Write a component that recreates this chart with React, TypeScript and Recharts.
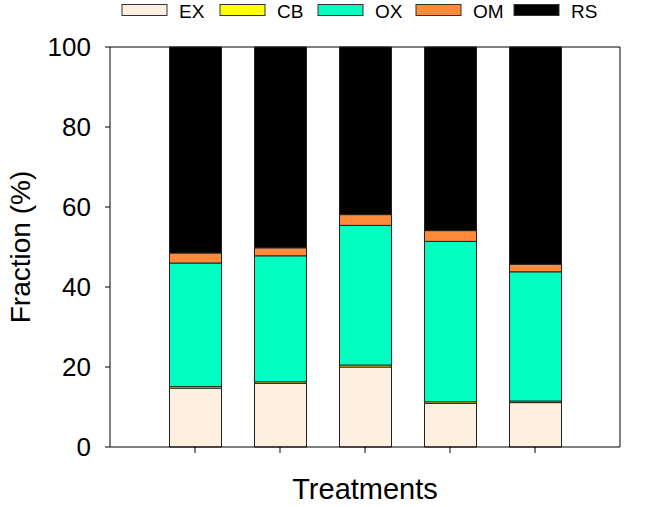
import { Bar, BarChart, CartesianGrid, XAxis, YAxis } from 'recharts'

const treatments = ['T1', 'T2', 'T3', 'T4', 'T5']
const exValues = [14.7, 15.9, 20.0, 10.9, 11.1]
const cbValues = [0.4, 0.4, 0.5, 0.4, 0.4]
const oxValues = [30.9, 31.5, 34.9, 40.1, 32.3]
const omValues = [2.5, 2.0, 2.7, 2.7, 1.9]
const rsValues = [51.5, 50.2, 41.9, 45.9, 54.3]
const yTicks = [0, 20, 40, 60, 80, 100]

const SERIES = [
  { key: 'EX', values: exValues, color: '#FEF0E1' },
  { key: 'CB', values: cbValues, color: '#FFFF00' },
  { key: 'OX', values: oxValues, color: '#00FFC0' },
  { key: 'OM', values: omValues, color: '#FF8A3C' },
  { key: 'RS', values: rsValues, color: '#000000' },
]

const FONT = 'Arial, "Liberation Sans", sans-serif'

const chartData = treatments.map((name, i) => {
  const row: Record<string, string | number> = { name }
  SERIES.forEach((s) => {
    row[s.key] = s.values[i]
  })
  return row
})

// Legend drawn as plain svg above the plot so it does not shift the plot area
function TopLegend() {
  return (
    <svg width={671} height={24} style={{ position: 'absolute', left: 0, top: 0 }}>
      {SERIES.map((s, i) => {
        const x = 122 + i * 98
        return (
          <g key={s.key}>
            <rect x={x} y={4.5} width={45} height={11} fill={s.color} stroke="#333" strokeWidth={1} />
            <text x={x + 57} y={18} fontSize={19} fontFamily={FONT} fill="#000">
              {s.key}
            </text>
          </g>
        )
      })}
    </svg>
  )
}

export default function App() {
  return (
    <div style={{ position: 'absolute', left: 0, top: 0, width: 671, height: 507 }}>
      <BarChart
        width={671}
        height={507}
        data={chartData}
        barCategoryGap={0}
        margin={{ top: 47, right: 51, left: 0, bottom: 0 }}
      >
        {/* top and right frame lines of the plot box */}
        <CartesianGrid
          stroke="#000"
          horizontalCoordinatesGenerator={({ offset }: any) => [offset.top]}
          verticalCoordinatesGenerator={({ offset }: any) => [offset.left + offset.width]}
        />
        <XAxis
          dataKey="name"
          height={60}
          padding={{ left: 42.5, right: 42.5 }}
          stroke="#000"
          tickSize={6}
          tickFormatter={() => ''}
          label={({ viewBox }: any) => (
            <text
              x={viewBox.x + viewBox.width / 2}
              y={499}
              textAnchor="middle"
              fontSize={29}
              fontFamily={FONT}
              fill="#000"
            >
              Treatments
            </text>
          )}
        />
        <YAxis
          width={110}
          domain={[0, 100]}
          ticks={yTicks}
          stroke="#000"
          tickSize={5}
          tickMargin={14}
          tick={{ fontSize: 26, fontFamily: FONT, fill: '#000' }}
          label={({ viewBox }: any) => (
            <text
              x={30}
              y={viewBox.y + viewBox.height / 2}
              transform={`rotate(-90, 30, ${viewBox.y + viewBox.height / 2})`}
              textAnchor="middle"
              fontSize={28}
              fontFamily={FONT}
              fill="#000"
            >
              Fraction (%)
            </text>
          )}
        />
        {SERIES.map((s) => (
          <Bar
            key={s.key}
            dataKey={s.key}
            stackId="a"
            fill={s.color}
            stroke="#222"
            strokeWidth={1}
            barSize={52}
            isAnimationActive={false}
          />
        ))}
      </BarChart>
      <TopLegend />
    </div>
  )
}
